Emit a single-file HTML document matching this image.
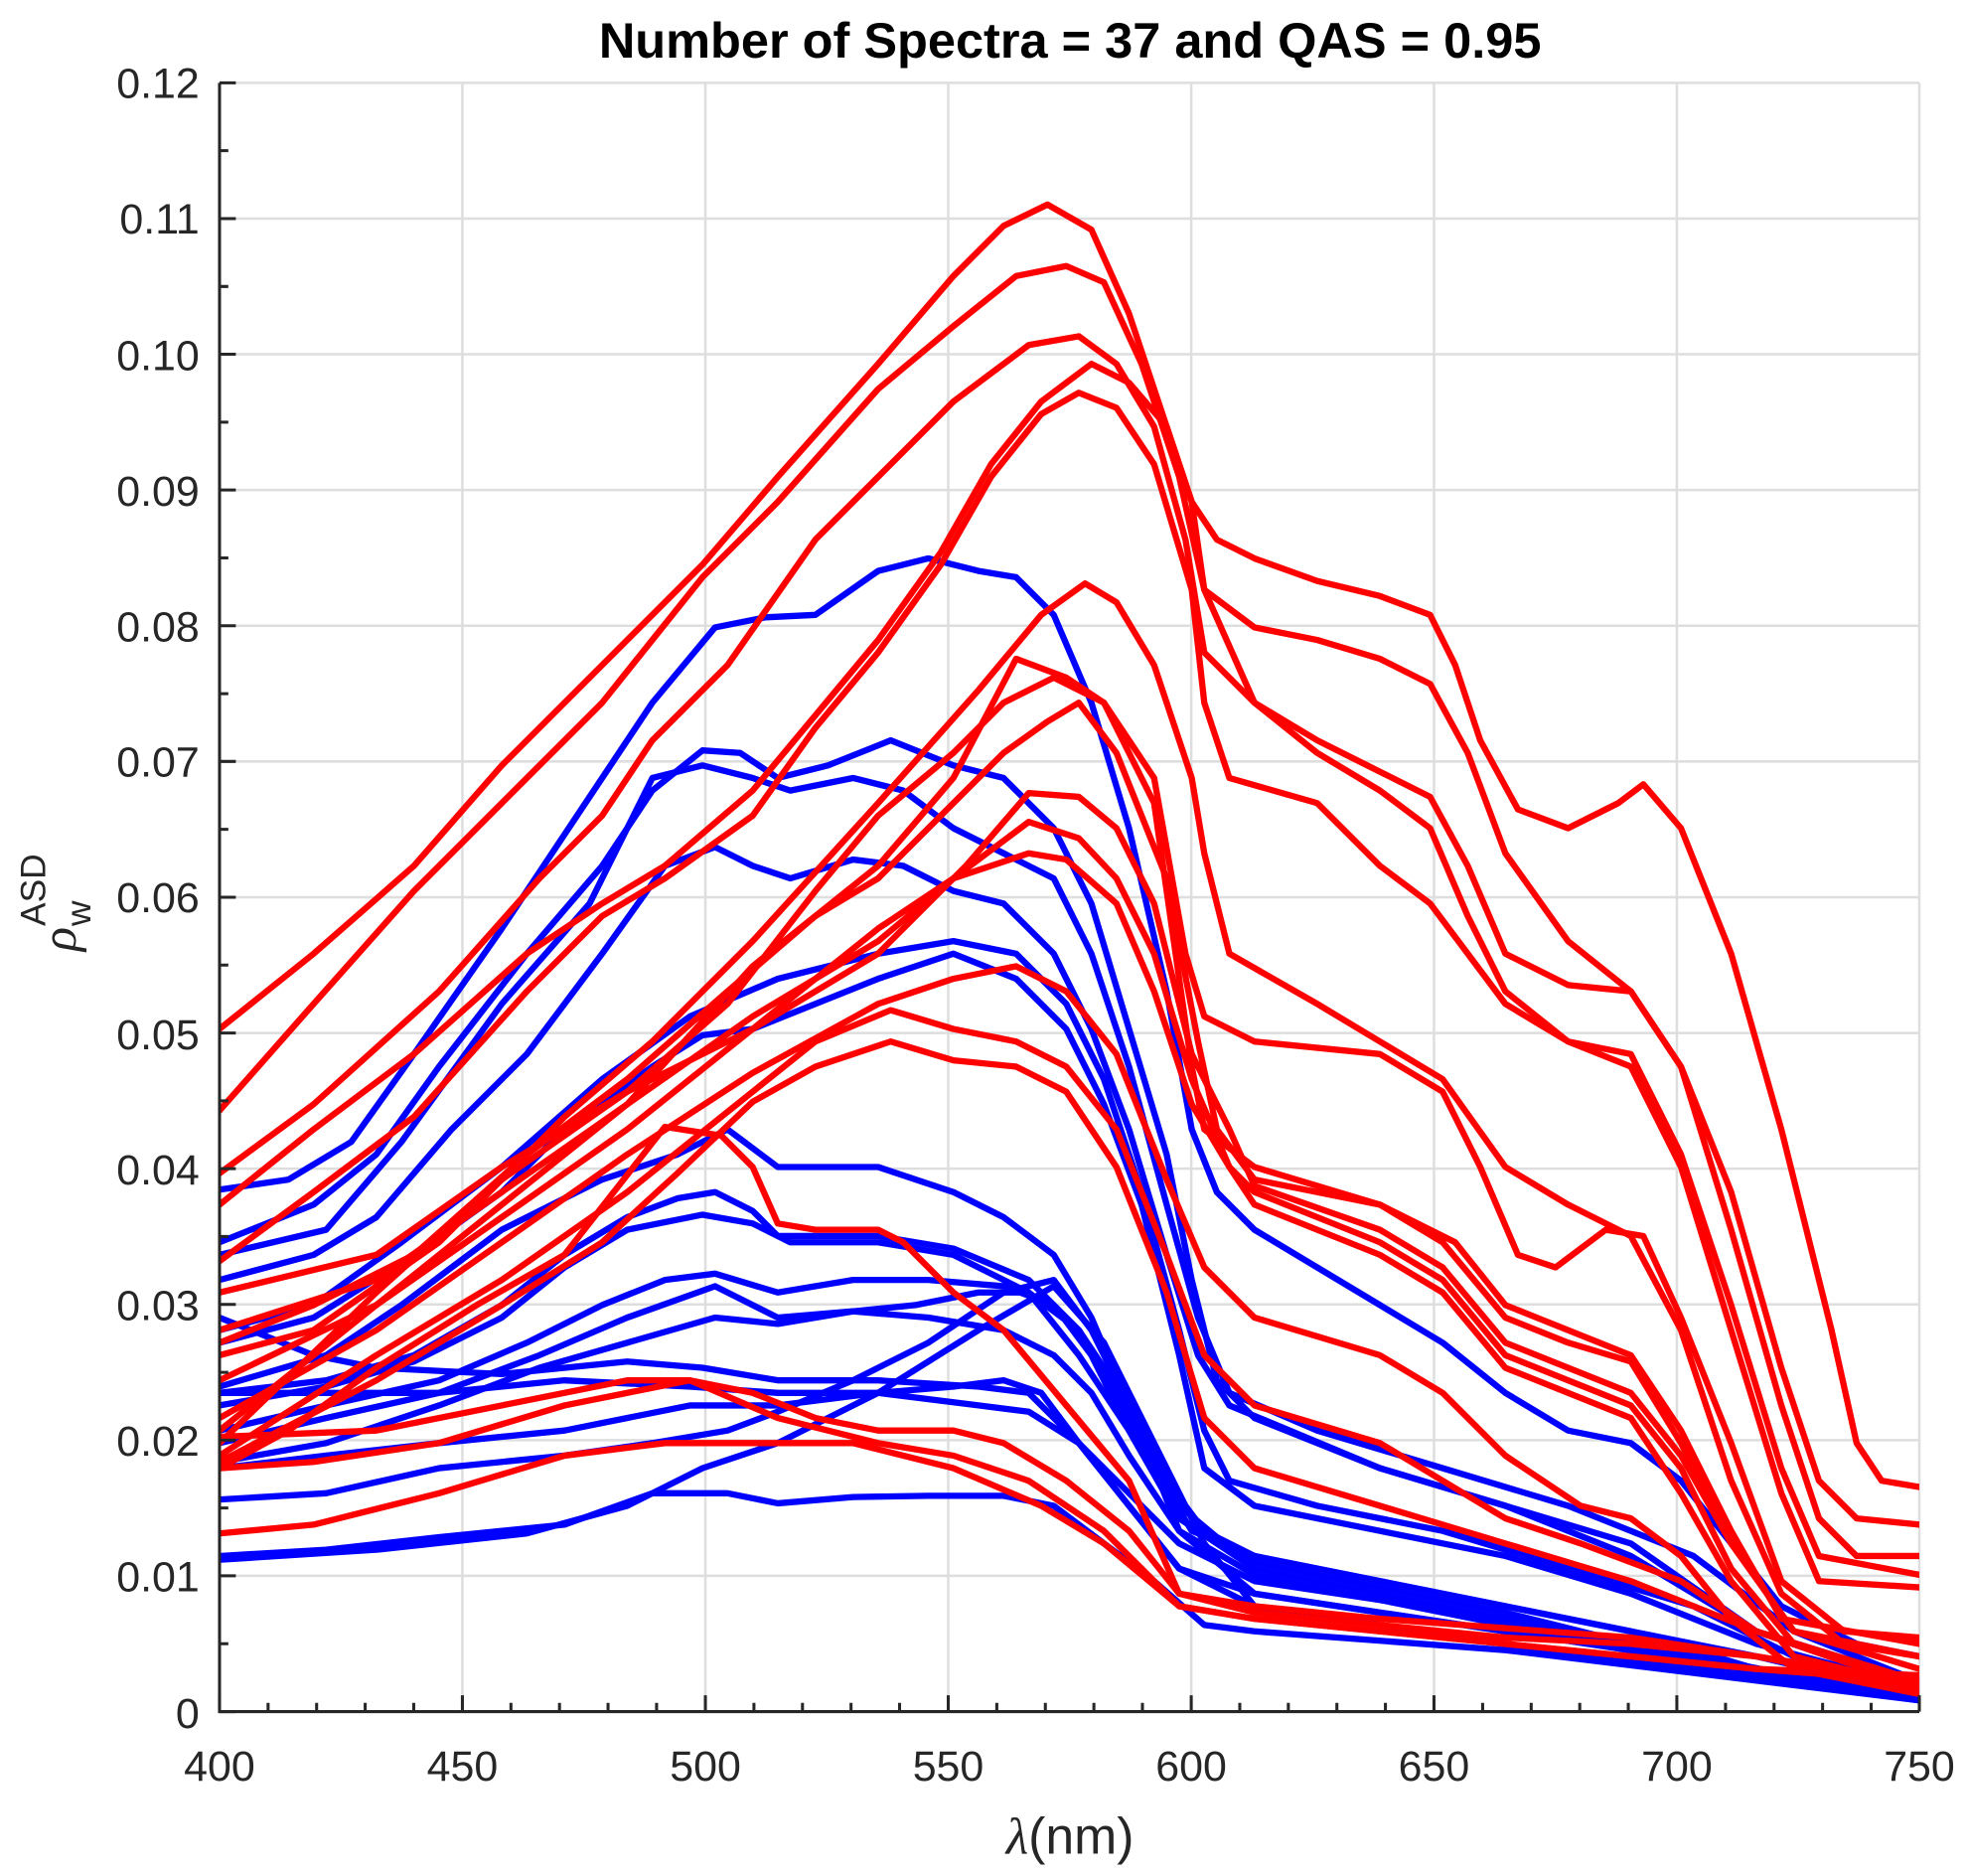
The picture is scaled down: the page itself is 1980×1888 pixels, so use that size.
<!DOCTYPE html>
<html><head><meta charset="utf-8"><style>html,body{margin:0;padding:0;background:#fff}svg{display:block}</style></head>
<body>
<svg width="1980" height="1888" viewBox="0 0 1568 1495" preserveAspectRatio="none" xmlns="http://www.w3.org/2000/svg" font-family="Liberation Sans, sans-serif">
<rect width="1568" height="1495" fill="#fff"/>
<g stroke="#dedede" stroke-width="2">
<line x1="368.6" y1="66" x2="368.6" y2="1364"/><line x1="562.3" y1="66" x2="562.3" y2="1364"/><line x1="755.9" y1="66" x2="755.9" y2="1364"/><line x1="949.6" y1="66" x2="949.6" y2="1364"/><line x1="1143.1" y1="66" x2="1143.1" y2="1364"/><line x1="1336.7" y1="66" x2="1336.7" y2="1364"/>
<line x1="175" y1="1255.8" x2="1530" y2="1255.8"/><line x1="175" y1="1147.7" x2="1530" y2="1147.7"/><line x1="175" y1="1039.5" x2="1530" y2="1039.5"/><line x1="175" y1="931.3" x2="1530" y2="931.3"/><line x1="175" y1="823.2" x2="1530" y2="823.2"/><line x1="175" y1="715" x2="1530" y2="715"/><line x1="175" y1="606.8" x2="1530" y2="606.8"/><line x1="175" y1="498.7" x2="1530" y2="498.7"/><line x1="175" y1="390.5" x2="1530" y2="390.5"/><line x1="175" y1="282.3" x2="1530" y2="282.3"/><line x1="175" y1="174.2" x2="1530" y2="174.2"/><line x1="175" y1="66" x2="1530" y2="66"/><line x1="1530" y1="66" x2="1530" y2="1364"/>
</g>
<defs><clipPath id="c"><rect x="175" y="66" width="1355" height="1298"/></clipPath></defs>
<g clip-path="url(#c)" fill="none" stroke-width="5" stroke-linejoin="round" stroke-linecap="round">
<g stroke="#0000ff">
<polyline points="175,948 230,940 280,910 330,840 400,740 460,650 520,560 570,500 610,492 650,490 700,455 740,445 780,455 810,460 840,490 870,560 900,660 930,790 950,900 970,950 1000,980 1050,1010 1100,1040 1150,1070 1200,1110 1250,1140 1300,1150 1340,1180 1380,1230 1420,1280 1480,1310 1530,1320"/>
<polyline points="175,990 250,960 300,920 350,850 420,760 480,690 520,630 560,598 590,600 620,620 660,610 710,590 760,610 800,620 840,660 870,720 900,820 930,920 950,1020 970,1100 1000,1130 1100,1170 1200,1200 1300,1230 1400,1300 1530,1340"/>
<polyline points="175,1000 260,980 320,910 400,800 470,720 520,620 560,610 600,620 630,630 680,620 720,630 760,660 800,680 840,700 870,760 900,850 930,960 955,1050 980,1110 1050,1140 1150,1170 1250,1200 1350,1240 1430,1300 1530,1340"/>
<polyline points="175,1020 250,1000 300,970 360,900 420,840 480,760 530,690 570,675 600,690 630,700 680,685 720,690 760,710 800,720 840,760 870,820 900,900 930,1000 955,1080 980,1120 1100,1170 1200,1200 1300,1240 1400,1300 1530,1345"/>
<polyline points="175,1060 250,1040 320,990 400,930 480,860 550,810 620,780 700,760 760,750 810,760 850,800 880,860 910,950 940,1060 960,1140 980,1180 1050,1200 1150,1220 1250,1250 1350,1280 1430,1320 1530,1350"/>
<polyline points="175,1070 250,1050 330,1000 400,950 450,900 520,850 560,825 600,820 650,800 700,780 760,760 810,780 850,820 880,880 910,960 940,1080 960,1170 1000,1200 1100,1220 1200,1240 1300,1270 1400,1310 1530,1345"/>
<polyline points="175,1105 260,1080 320,1040 400,980 480,940 540,920 580,900 620,930 660,930 700,930 760,950 800,970 840,1000 870,1050 900,1120 930,1180 960,1220 1000,1240 1100,1260 1200,1280 1300,1300 1400,1320 1530,1350"/>
<polyline points="175,1110 260,1100 330,1080 400,1040 450,1000 500,970 540,955 570,950 600,965 620,985 660,985 700,985 760,995 820,1020 860,1060 890,1110 920,1170 950,1220 1000,1240 1100,1260 1200,1280 1300,1300 1400,1330 1530,1350"/>
<polyline points="175,1120 260,1105 330,1085 400,1050 450,1010 500,980 560,968 600,975 630,990 700,990 760,1000 820,1030 860,1080 900,1140 940,1210 1000,1245 1100,1265 1200,1285 1300,1310 1400,1335 1530,1355"/>
<polyline points="175,1140 260,1120 350,1100 420,1070 480,1040 530,1020 570,1015 620,1030 680,1020 740,1020 800,1025 840,1040 870,1080 900,1140 940,1210 1000,1250 1100,1270 1200,1290 1300,1310 1530,1355"/>
<polyline points="175,1150 260,1130 350,1110 430,1080 500,1050 570,1025 620,1050 680,1045 740,1050 800,1060 840,1080 870,1110 900,1160 940,1220 1000,1255 1200,1295 1530,1355"/>
<polyline points="175,1165 260,1150 350,1120 430,1090 500,1070 570,1050 620,1055 680,1045 730,1040 780,1030 820,1030 860,1060 900,1120 940,1200 1000,1250 1200,1290 1530,1355"/>
<polyline points="175,1050 250,1080 300,1090 400,1095 500,1085 560,1090 620,1100 700,1100 780,1105 820,1110 860,1150 900,1190 940,1230 1000,1260 1200,1290 1530,1355"/>
<polyline points="175,1110 260,1110 350,1110 450,1100 550,1105 620,1110 700,1110 780,1120 820,1125 860,1150 900,1200 940,1250 1000,1270 1200,1300 1530,1350"/>
<polyline points="175,1170 260,1160 350,1150 450,1140 550,1120 620,1120 700,1110 760,1105 800,1100 830,1110 860,1150 900,1200 940,1250 1000,1280 1200,1310 1530,1355"/>
<polyline points="175,1195 260,1190 350,1170 450,1160 520,1150 580,1140 620,1125 680,1100 740,1070 800,1030 840,1020 870,1060 900,1120 940,1220 1000,1270 1200,1300 1530,1350"/>
<polyline points="175,1240 260,1235 350,1225 450,1215 520,1190 580,1190 620,1198 680,1193 740,1192 800,1192 840,1200 880,1230 920,1260 960,1295 1000,1300 1200,1315 1530,1355"/>
<polyline points="175,1243 300,1235 420,1222 500,1200 560,1170 620,1150 700,1110 780,1060 840,1025 880,1070 920,1150 960,1230 1000,1280 1200,1310 1530,1350"/>
</g>
<g stroke="#ff0000">
<polyline points="175,820 250,760 330,690 400,610 480,530 560,450 620,380 700,290 760,220 800,180 835,163 870,183 900,250 930,340 950,400 970,430 1000,445 1050,463 1100,475 1140,490 1160,530 1180,590 1210,645 1250,660 1290,640 1310,625 1340,660 1380,760 1420,900 1460,1060 1480,1150 1500,1180 1530,1185"/>
<polyline points="175,885 250,800 330,710 400,640 480,560 560,460 620,400 700,310 760,260 810,220 850,212 880,225 910,290 940,380 960,470 1000,500 1050,510 1100,525 1140,545 1170,600 1200,680 1250,750 1300,790 1340,850 1380,950 1420,1090 1450,1180 1480,1210 1530,1215"/>
<polyline points="175,935 250,880 350,790 430,700 480,650 520,590 580,530 650,430 700,380 760,320 820,275 860,268 890,290 920,340 945,430 960,520 1000,560 1050,590 1100,615 1140,635 1170,690 1200,760 1250,785 1300,790 1340,850 1380,980 1420,1120 1450,1210 1480,1240 1530,1240"/>
<polyline points="175,960 250,900 330,840 420,760 480,720 530,690 600,630 650,570 700,510 750,440 790,370 830,320 870,290 900,305 930,340 950,400 960,470 1000,560 1050,600 1100,630 1140,660 1170,730 1200,790 1250,830 1300,840 1340,920 1380,1040 1420,1170 1450,1240 1530,1255"/>
<polyline points="175,1005 250,950 330,890 420,790 480,730 530,700 600,650 650,580 700,520 750,450 790,380 830,330 860,313 890,325 920,370 950,470 960,560 980,620 1050,640 1100,690 1140,720 1170,760 1200,800 1250,830 1300,850 1340,930 1380,1060 1420,1190 1450,1260 1530,1265"/>
<polyline points="175,1080 250,1060 350,990 450,890 520,830 600,750 700,640 780,550 830,490 865,465 890,480 920,530 950,620 960,680 980,760 1050,800 1100,830 1150,860 1200,930 1250,960 1300,985 1340,1060 1380,1180 1420,1270 1470,1310 1530,1320"/>
<polyline points="175,1140 300,1040 400,960 500,880 600,770 700,690 760,620 810,525 850,540 880,560 920,620 945,760 960,810 1000,830 1100,840 1150,870 1180,930 1210,1000 1240,1010 1280,980 1310,985 1340,1050 1380,1150 1420,1260 1470,1300 1530,1305"/>
<polyline points="175,1150 300,1030 400,940 500,870 580,800 650,710 700,650 760,600 800,560 840,540 880,560 920,640 950,850 960,900 1000,930 1100,960 1160,990 1200,1040 1250,1060 1300,1080 1340,1140 1380,1220 1420,1290 1530,1310"/>
<polyline points="175,1070 250,1040 330,1000 420,920 500,860 580,790 650,730 700,700 760,640 800,600 835,575 860,560 890,600 930,700 955,830 970,900 1000,940 1100,960 1150,990 1200,1050 1250,1070 1300,1085 1340,1150 1380,1230 1430,1300 1530,1320"/>
<polyline points="175,1030 300,1000 400,930 500,870 600,820 700,760 770,690 820,632 860,635 890,660 920,720 950,840 980,900 1000,945 1100,980 1150,1010 1200,1070 1250,1090 1300,1110 1340,1160 1380,1230 1430,1300 1530,1330"/>
<polyline points="175,1060 300,1020 400,950 500,880 600,810 700,750 760,700 820,655 860,668 890,700 920,760 950,860 980,930 1000,950 1100,990 1150,1020 1200,1080 1250,1100 1300,1120 1340,1170 1380,1250 1430,1310 1530,1340"/>
<polyline points="175,1100 300,1040 400,970 500,900 600,820 700,740 760,700 820,680 850,685 890,720 920,790 950,880 980,930 1000,960 1100,1000 1150,1030 1200,1090 1250,1110 1300,1130 1340,1190 1380,1260 1430,1320 1530,1345"/>
<polyline points="175,1130 300,1060 400,990 500,920 600,855 700,800 760,780 810,770 850,790 890,840 930,940 960,1010 1000,1050 1100,1080 1150,1110 1200,1160 1260,1200 1300,1210 1340,1240 1380,1290 1430,1330 1530,1350"/>
<polyline points="175,1160 300,1080 400,1020 500,950 600,870 650,830 710,805 760,820 810,830 850,850 890,900 930,1000 960,1080 1000,1120 1100,1150 1150,1180 1200,1210 1260,1230 1340,1260 1400,1300 1530,1345"/>
<polyline points="175,1165 300,1100 400,1040 480,990 540,935 600,878 650,850 710,830 760,845 810,850 850,870 890,930 930,1030 960,1130 1000,1170 1100,1200 1200,1230 1300,1260 1400,1300 1530,1340"/>
<polyline points="175,1170 230,1140 300,1090 380,1040 450,1000 530,898 575,905 600,930 620,975 650,980 700,980 720,990 760,1030 800,1060 850,1120 900,1180 940,1270 1000,1285 1100,1295 1200,1305 1300,1310 1400,1320 1530,1340"/>
<polyline points="175,1145 300,1140 400,1120 500,1100 550,1100 600,1110 650,1130 700,1140 760,1140 800,1150 850,1180 900,1220 940,1270 1000,1280 1100,1290 1300,1305 1400,1320 1530,1345"/>
<polyline points="175,1170 250,1165 350,1150 450,1120 550,1100 620,1130 700,1150 760,1160 820,1180 880,1220 940,1280 1000,1290 1100,1300 1200,1310 1400,1330 1530,1340"/>
<polyline points="175,1222 250,1215 350,1190 450,1160 530,1150 600,1150 680,1150 760,1170 830,1200 880,1230 940,1280 1000,1290 1100,1300 1200,1310 1300,1320 1400,1330 1530,1335"/>
</g>
</g>
<g stroke="#262626" stroke-width="2.4" fill="none">
<polyline points="175,66 175,1364 1530,1364"/>
<path d="M175,1364v-13M368.6,1364v-13M562.3,1364v-13M755.9,1364v-13M949.6,1364v-13M1143.1,1364v-13M1336.7,1364v-13M1530,1364v-13"/>
<path d="M213.7,1364v-7M252.4,1364v-7M291.1,1364v-7M329.8,1364v-7M407.3,1364v-7M446,1364v-7M484.7,1364v-7M523.4,1364v-7M601,1364v-7M639.7,1364v-7M678.4,1364v-7M717.1,1364v-7M794.6,1364v-7M833.3,1364v-7M872,1364v-7M910.7,1364v-7M988.3,1364v-7M1027,1364v-7M1065.7,1364v-7M1104.4,1364v-7M1181.9,1364v-7M1220.6,1364v-7M1259.3,1364v-7M1298,1364v-7M1375.5,1364v-7M1414.2,1364v-7M1452.9,1364v-7M1491.6,1364v-7"/>
<path d="M175,1364h13M175,1255.8h13M175,1147.7h13M175,1039.5h13M175,931.3h13M175,823.2h13M175,715h13M175,606.8h13M175,498.7h13M175,390.5h13M175,282.3h13M175,174.2h13M175,66h13"/>
<path d="M175,1309.9h7M175,1201.7h7M175,1093.6h7M175,985.4h7M175,877.3h7M175,769.1h7M175,660.9h7M175,552.8h7M175,444.6h7M175,336.4h7M175,228.3h7M175,120.1h7"/>
</g>
<g fill="#262626" font-size="34" text-anchor="end">
<text x="159" y="1377">0</text><text x="159" y="1268">0.01</text><text x="159" y="1160">0.02</text><text x="159" y="1052">0.03</text><text x="159" y="944">0.04</text><text x="159" y="836">0.05</text><text x="159" y="727">0.06</text><text x="159" y="619">0.07</text><text x="159" y="511">0.08</text><text x="159" y="403">0.09</text><text x="159" y="295">0.10</text><text x="159" y="186">0.11</text><text x="159" y="78">0.12</text>
</g>
<g fill="#262626" font-size="34" text-anchor="middle">
<text x="175" y="1419">400</text><text x="368.6" y="1419">450</text><text x="562.3" y="1419">500</text><text x="755.9" y="1419">550</text><text x="949.6" y="1419">600</text><text x="1143.1" y="1419">650</text><text x="1336.7" y="1419">700</text><text x="1530" y="1419">750</text>
<text x="853" y="1477" font-size="41"><tspan font-family="Liberation Serif, serif" font-style="italic">λ</tspan>(nm)</text>
<text x="853" y="46" font-size="40" font-weight="bold" fill="#000">Number of Spectra = 37 and QAS = 0.95</text>
</g>
<g fill="#262626" transform="translate(60,758) rotate(-90)">
<text x="0" y="0" font-size="40" font-family="Liberation Serif, serif" font-style="italic">ρ</text>
<text x="20" y="12" font-size="28">w</text>
<text x="20" y="-24" font-size="28">ASD</text>
</g>
</svg>
</body></html>
